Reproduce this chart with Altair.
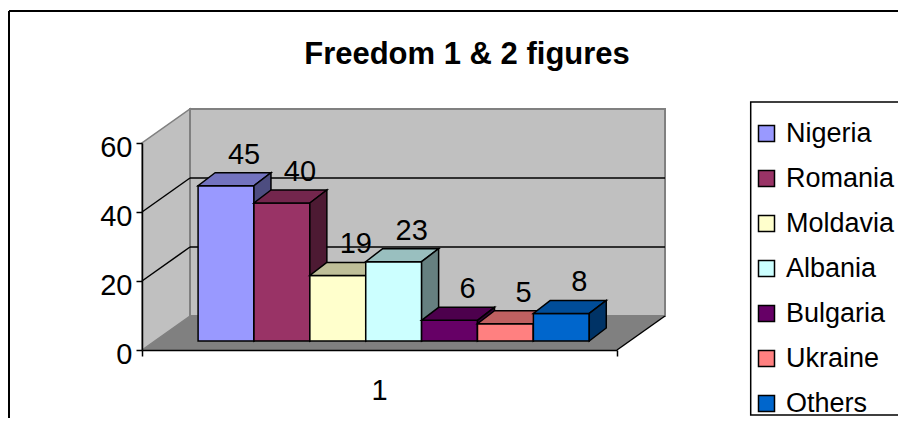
import altair as alt
import pandas as pd

# ---- data ----
categories = ["1"]
countries = ["Nigeria", "Romania", "Moldavia", "Albania", "Bulgaria", "Ukraine", "Others"]
values = [45, 40, 19, 23, 6, 5, 8]
front_colors = ["#9999FF", "#993366", "#FFFFCC", "#CCFFFF", "#660066", "#FF8080", "#0066CC"]
top_colors = ["#7373BF", "#73264D", "#BFBF99", "#99BFBF", "#4D004D", "#BF6060", "#004D99"]
side_colors = ["#4D4D80", "#4D1A33", "#808066", "#668080", "#330033", "#804040", "#003366"]
y_ticks = [0, 20, 40, 60]
title_text = "Freedom 1 & 2 figures"

# ---- geometry / style ----
FONT = "Liberation Sans"
W, H = 475, 207
XMAX, YMAX = 8.5, 60
kx, ky = W / XMAX, H / YMAX


def ux(px):
    return px / kx


def uy(px):
    return px / ky


WALL_DX, WALL_DY = 48, 34
BAR_DX, BAR_DY = 12.5, 9
DEP_DX, DEP_DY = 17, 13
BAR_START = 0.78

xaxis = alt.Axis(values=[0, XMAX], labels=False, title=None, grid=False,
                 domainColor="black", domainWidth=1.5, tickColor="black",
                 tickWidth=1.5, tickSize=6, zindex=1)
yaxis = alt.Axis(values=y_ticks, title=None, grid=False, domainColor="black",
                 domainWidth=1.5, tickColor="black", tickWidth=1.5, tickSize=6,
                 labelFont=FONT, labelFontSize=29, labelColor="black",
                 labelPadding=4, labelOffset=4, zindex=1)


def X(f):
    return alt.X(f"{f}:Q", scale=alt.Scale(domain=[0, XMAX], nice=False, zero=False), axis=xaxis)


def Y(f):
    return alt.Y(f"{f}:Q", scale=alt.Scale(domain=[0, YMAX], nice=False, zero=False), axis=yaxis)


layers = []

# side wall
side_wall = pd.DataFrame({"x": [0, ux(WALL_DX)], "y": [0, uy(WALL_DY)],
                          "y2": [YMAX, YMAX + uy(WALL_DY)]})
layers.append(alt.Chart(side_wall).mark_area(orient="vertical", color="#C0C0C0",
                                             stroke="#808080", strokeWidth=1.5)
              .encode(x=X("x"), y=Y("y"), y2="y2"))

# back wall
back_wall = pd.DataFrame({"x": [ux(WALL_DX)], "x2": [XMAX + ux(WALL_DX)],
                          "y": [uy(WALL_DY)], "y2": [YMAX + uy(WALL_DY)]})
layers.append(alt.Chart(back_wall).mark_rect(color="#C0C0C0", stroke="#808080", strokeWidth=2)
              .encode(x=X("x"), x2="x2", y=Y("y"), y2="y2"))

# floor
floor = pd.DataFrame({"y": [0, uy(WALL_DY)], "x": [0, ux(WALL_DX)],
                      "x2": [XMAX, XMAX + ux(WALL_DX)]})
layers.append(alt.Chart(floor).mark_area(orient="horizontal", color="#808080")
              .encode(y=Y("y"), x=X("x"), x2="x2"))

# grid lines on back wall and side wall
grid_vals = [v for v in y_ticks if 0 < v < YMAX]
back_grid = pd.DataFrame({"x": [ux(WALL_DX)] * len(grid_vals),
                          "x2": [XMAX + ux(WALL_DX)] * len(grid_vals),
                          "y": [v + uy(WALL_DY) for v in grid_vals]})
layers.append(alt.Chart(back_grid).mark_rule(color="black", strokeWidth=1.5)
              .encode(x=X("x"), x2="x2", y=Y("y")))
side_grid = pd.DataFrame({"x": [0] * len(grid_vals), "x2": [ux(WALL_DX)] * len(grid_vals),
                          "y": grid_vals, "y2": [v + uy(WALL_DY) for v in grid_vals]})
layers.append(alt.Chart(side_grid).mark_rule(color="black", strokeWidth=1.5)
              .encode(x=X("x"), x2="x2", y=Y("y"), y2="y2"))
floor_edge = pd.DataFrame({"x": [XMAX], "x2": [XMAX + ux(WALL_DX)], "y": [0], "y2": [uy(WALL_DY)]})
layers.append(alt.Chart(floor_edge).mark_rule(color="black", strokeWidth=1.5)
              .encode(x=X("x"), x2="x2", y=Y("y"), y2="y2"))

legend = alt.Legend(orient="none", legendX=611, legendY=-23, title=None,
                    symbolType="square", symbolSize=256, symbolStrokeColor="black",
                    symbolStrokeWidth=1.5, symbolOpacity=1, labelFont=FONT,
                    labelFontSize=27, labelColor="black", labelOffset=6,
                    padding=0, rowPadding=17)

# legend box (frame)
layers.append(alt.Chart(pd.DataFrame({"a": [0]})).mark_rect(fill="white", stroke="black",
                                                            strokeWidth=1.5)
              .encode(x=alt.value(608.7), x2=alt.value(800), y=alt.value(-41),
                      y2=alt.value(272)))

# bars (drawn left to right for correct overlap)
for i, (c, v) in enumerate(zip(countries, values)):
    xl = BAR_START + i + ux(BAR_DX)
    xr = xl + 1
    yb = uy(BAR_DY)
    yt = v + uy(BAR_DY)
    front = pd.DataFrame({"country": [c], "x": [xl], "x2": [xr], "y": [yb], "y2": [yt]})
    layers.append(alt.Chart(front).mark_rect(stroke="black", strokeWidth=1.5, opacity=1)
                  .encode(x=X("x"), x2="x2", y=Y("y"), y2="y2",
                          color=alt.Color("country:N",
                                          scale=alt.Scale(domain=countries, range=front_colors),
                                          legend=legend)))
    top = pd.DataFrame({"y": [yt, yt + uy(DEP_DY)], "x": [xl, xl + ux(DEP_DX)],
                        "x2": [xr, xr + ux(DEP_DX)]})
    layers.append(alt.Chart(top).mark_area(orient="horizontal", color=top_colors[i],
                                           stroke="black", strokeWidth=1.5, opacity=1)
                  .encode(y=Y("y"), x=X("x"), x2="x2"))
    side = pd.DataFrame({"x": [xr, xr + ux(DEP_DX)], "y": [yb, yb + uy(DEP_DY)],
                         "y2": [yt, yt + uy(DEP_DY)]})
    layers.append(alt.Chart(side).mark_area(orient="vertical", color=side_colors[i],
                                            stroke="black", strokeWidth=1.5, opacity=1)
                  .encode(x=X("x"), y=Y("y"), y2="y2"))

# value labels
lab = pd.DataFrame({
    "x": [BAR_START + i + 0.5 + ux(BAR_DX + 18) for i in range(len(values))],
    "y": [v + uy(BAR_DY + DEP_DY + 9) for v in values],
    "t": [str(v) for v in values],
})
layers.append(alt.Chart(lab).mark_text(font=FONT, fontSize=29, color="black",
                                       align="center", baseline="alphabetic")
              .encode(x=X("x"), y=Y("y"), text="t:N"))

# category label
cat = pd.DataFrame({"x": [XMAX / 2], "y": [-uy(50)], "t": categories})
layers.append(alt.Chart(cat).mark_text(font=FONT, fontSize=29, color="black",
                                       align="center", baseline="alphabetic")
              .encode(x=X("x"), y=Y("y"), text="t:N"))

# chart title
ttl = pd.DataFrame({"t": [title_text]})
layers.append(alt.Chart(ttl).mark_text(font=FONT, fontSize=31, fontWeight="bold", color="black",
                                       align="center", baseline="alphabetic")
              .encode(x=alt.value(325), y=alt.value(-79), text="t:N"))

# outer chart border (top and left edges)
layers.append(alt.Chart(pd.DataFrame({"a": [0]})).mark_rule(color="black", strokeWidth=2)
              .encode(x=alt.value(-133), y=alt.value(-132), y2=alt.value(290)))
layers.append(alt.Chart(pd.DataFrame({"a": [0]})).mark_rule(color="black", strokeWidth=2)
              .encode(x=alt.value(-133), x2=alt.value(770), y=alt.value(-132)))

chart = alt.layer(*layers).properties(
    width=W, height=H,
    padding={"left": 134, "top": 135, "right": 281, "bottom": 68},
    autosize=alt.AutoSizeParams(type="none"),
    background="white",
).configure_view(stroke=None)

chart.save("out.html", embed_options={"renderer": "svg", "actions": False})
